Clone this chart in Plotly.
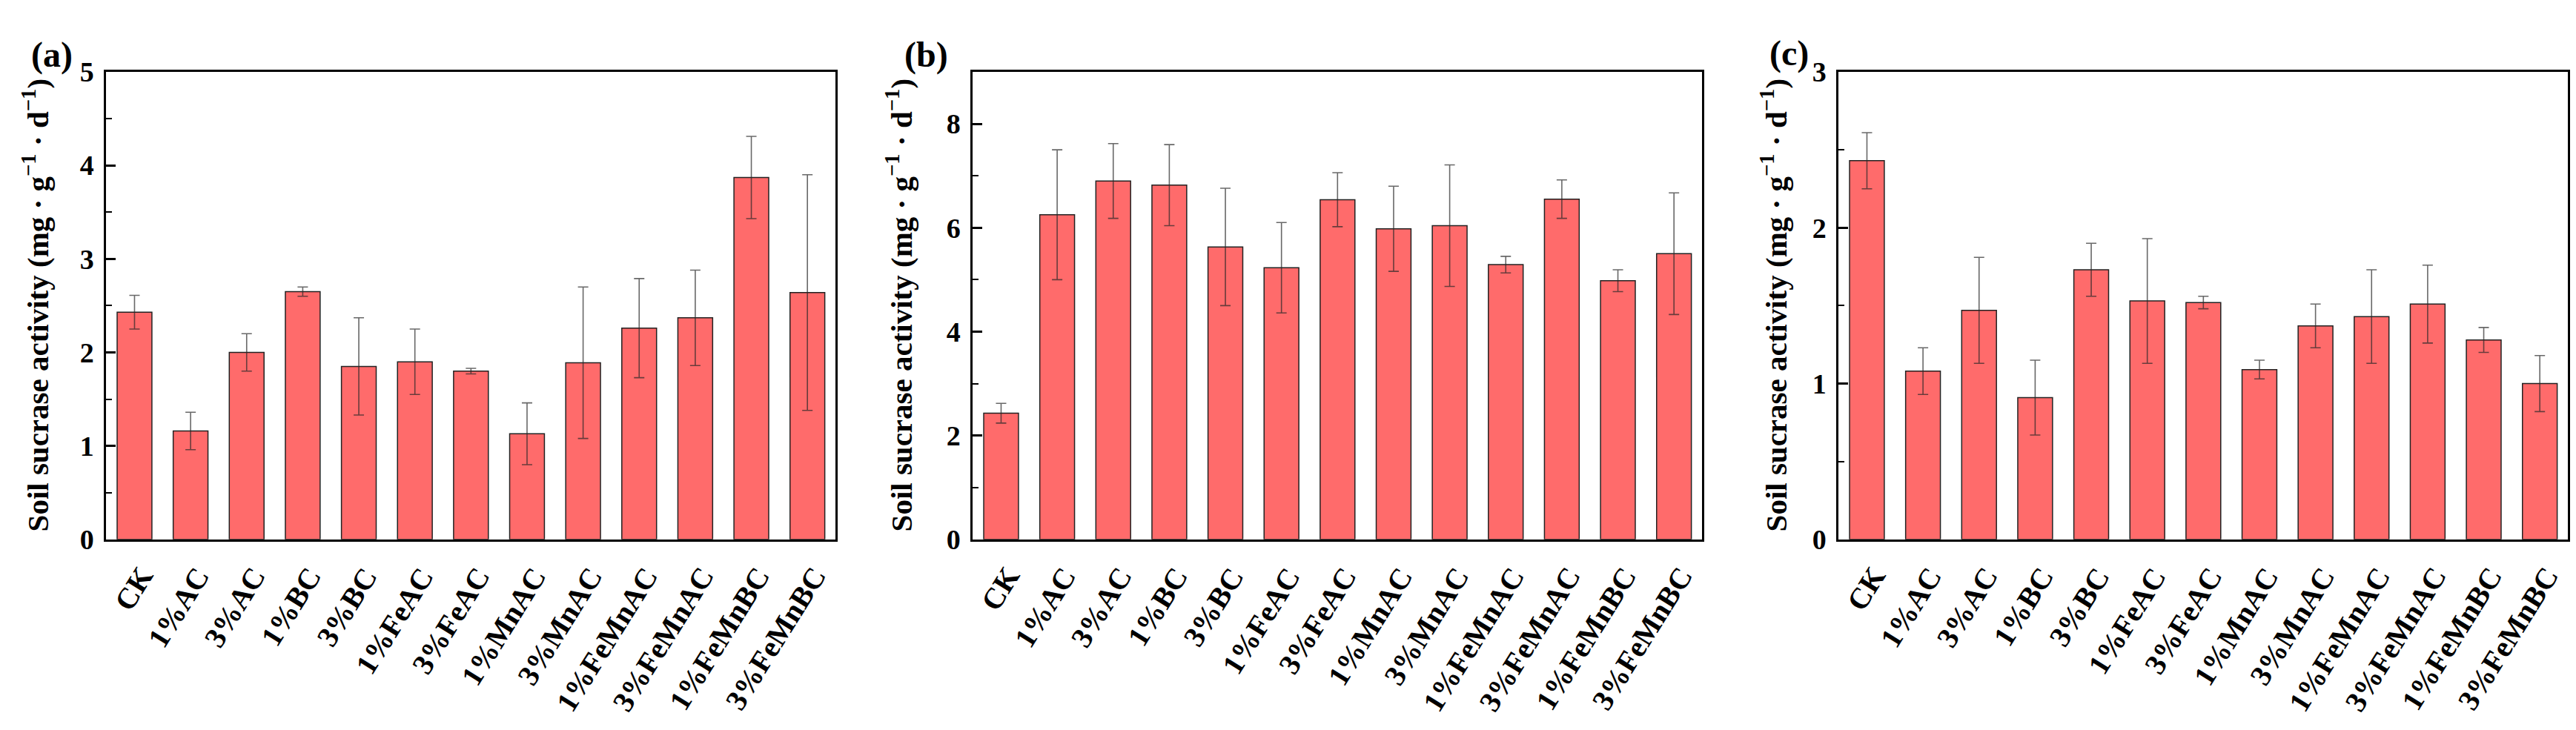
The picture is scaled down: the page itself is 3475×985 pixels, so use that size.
import plotly.graph_objects as go

W, H = 3475, 985

categories = ["CK", "1%AC", "3%AC", "1%BC", "3%BC", "1%FeAC", "3%FeAC",
              "1%MnAC", "3%MnAC", "1%FeMnAC", "3%FeMnAC", "1%FeMnBC", "3%FeMnBC"]

a_values = [2.43, 1.16, 2.00, 2.65, 1.85, 1.90, 1.80, 1.13, 1.89, 2.26, 2.37, 3.87, 2.64]
a_errors = [0.18, 0.20, 0.20, 0.05, 0.52, 0.35, 0.03, 0.33, 0.81, 0.53, 0.51, 0.44, 1.26]

b_values = [2.43, 6.25, 6.90, 6.82, 5.63, 5.23, 6.54, 5.98, 6.04, 5.29, 6.55, 4.98, 5.50]
b_errors = [0.19, 1.25, 0.72, 0.78, 1.13, 0.87, 0.52, 0.82, 1.17, 0.16, 0.37, 0.21, 1.17]

c_values = [2.43, 1.08, 1.47, 0.91, 1.73, 1.53, 1.52, 1.09, 1.37, 1.43, 1.51, 1.28, 1.00]
c_errors = [0.18, 0.15, 0.34, 0.24, 0.17, 0.40, 0.04, 0.06, 0.14, 0.30, 0.25, 0.08, 0.18]

panel_labels = ["(a)", "(b)", "(c)"]
y_ranges = [(0, 5), (0, 9), (0, 3)]
y_dticks = [1, 2, 1]
y_minor = [0.5, 1, 0.5]
y_title = "Soil sucrase activity (mg · g<sup>−1</sup> · d<sup>−1</sup>)"

FONT = "Liberation Serif"
BAR_COLOR = "#FF6B6B"

# pixel layout
px_left = [135, 1304, 2472]
px_width = 984
px_top, px_bottom = 71, 730
label_px = [(62, 47), (1241, 47), (2405, 45)]
ytitle_offset = [-95, -99, -87]

series = [(a_values, a_errors), (b_values, b_errors), (c_values, c_errors)]

fig = go.Figure()
annotations = []

for i, (vals, errs) in enumerate(series):
    xa = "x" if i == 0 else f"x{i+1}"
    ya = "y" if i == 0 else f"y{i+1}"
    fig.add_trace(go.Bar(
        x=categories, y=vals, xaxis=xa, yaxis=ya,
        marker=dict(color=BAR_COLOR, line=dict(color="#222222", width=1.5)),
        error_y=dict(type="data", array=errs, visible=True,
                     color="rgba(40,40,40,0.7)", thickness=1.6, width=7),
        showlegend=False,
    ))
    dom_x = [px_left[i] / W, (px_left[i] + px_width) / W]
    dom_y = [1 - px_bottom / H, 1 - px_top / H]
    xkey = "xaxis" if i == 0 else f"xaxis{i+1}"
    ykey = "yaxis" if i == 0 else f"yaxis{i+1}"
    fig.layout[xkey] = dict(
        domain=dom_x, anchor=ya, showticklabels=False, ticks="",
        showline=True, linecolor="black", linewidth=2.5, mirror=True,
        showgrid=False, zeroline=False, type="category",
    )
    fig.layout[ykey] = dict(
        domain=dom_y, anchor=xa, range=list(y_ranges[i]), dtick=y_dticks[i],
        tick0=0, ticks="inside", ticklen=13, tickwidth=2.5, tickcolor="black",
        minor=dict(ticks="inside", ticklen=8, tickwidth=2, tickcolor="black",
                   dtick=y_minor[i], tick0=0, showgrid=False),
        showline=True, linecolor="black", linewidth=2.5, mirror=True,
        showgrid=False, zeroline=False,
        tickfont=dict(family=FONT, size=38, color="black", weight="bold"),
        ticklabelstandoff=6,
    )
    # x category labels (rotated)
    for cat in categories:
        annotations.append(dict(
            x=cat, xref=xa, y=0, yref=f"{ya} domain",
            text=cat, showarrow=False, textangle=-58,
            xanchor="right", yanchor="top", xshift=37, yshift=-27,
            font=dict(family=FONT, size=40, color="black", weight="bold"),
        ))
    # y title
    annotations.append(dict(
        x=(px_left[i] + ytitle_offset[i]) / W, xref="paper",
        y=1 - (px_top + px_bottom) / 2 / H, yref="paper",
        text=y_title, showarrow=False, textangle=-90,
        xanchor="center", yanchor="middle",
        font=dict(family=FONT, size=41, color="black", weight="bold"),
    ))
    # panel label
    lx, ly = label_px[i]
    annotations.append(dict(
        x=lx / W, xref="paper", y=1 - ly / H, yref="paper",
        text=panel_labels[i], showarrow=False,
        xanchor="center", yanchor="middle",
        font=dict(family=FONT, size=48, color="black", weight="bold"),
    ))

fig.update_layout(
    width=W, height=H,
    margin=dict(l=0, r=0, t=0, b=0),
    paper_bgcolor="white", plot_bgcolor="white",
    bargap=0.38,
    annotations=annotations,
)

fig.write_html("out.html")
